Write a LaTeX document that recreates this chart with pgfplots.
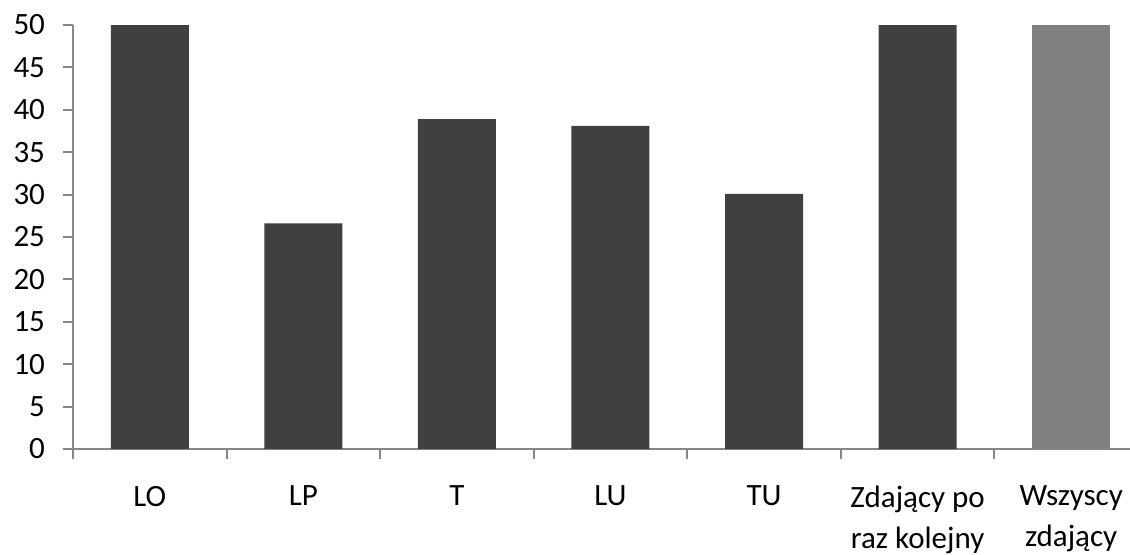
\documentclass[border=0pt]{standalone}
\usepackage{fontspec}
\setmainfont{Carlito}
\usepackage{pgfplots}
\pgfplotsset{compat=1.18}
\definecolor{bardark}{HTML}{404040}
\definecolor{barlight}{HTML}{808080}
\definecolor{axisgray}{HTML}{878787}
\begin{document}
\begin{tikzpicture}
\path[use as bounding box] (-36.5pt,-52.5pt) rectangle (528.5pt,224.5pt);
\begin{axis}[
  at={(0,0)}, anchor=south west,
  scale only axis, width=528.5pt, height=212pt,
  xmin=-0.5, xmax=6.383, ymin=0, ymax=50,
  axis lines*=left,
  axis line style={draw=axisgray, line width=1pt},
  every tick/.style={draw=axisgray, line width=1pt},
  tick align=outside, major tick length=5pt, minor tick length=5pt,
  ytick={0,5,...,50},
  xtick={0,...,6},
  minor xtick={-0.5,0.5,...,5.5},
  major x tick style={draw=none},
  xticklabels={LO,LP,T,LU,TU,{Zdający po\\raz kolejny},{Wszyscy\\zdający}},
  tick label style={font=\fontsize{15.5}{20.5}\selectfont},
  /pgf/number format/assume math mode=true,
  yticklabel style={xshift=-5.5pt},
  xticklabel style={align=center, anchor=north, yshift=-10pt},
  ybar, bar width=39pt,
  clip=true,
]
\addplot[fill=bardark, draw=none, bar shift=0pt] coordinates {
(0,50) (1,26.6) (2,38.9) (3,38.1) (4,30.1) (5,50)
};
\addplot[fill=barlight, draw=none, bar shift=0pt] coordinates {
(6,50)
};
\end{axis}
\end{tikzpicture}
\end{document}
